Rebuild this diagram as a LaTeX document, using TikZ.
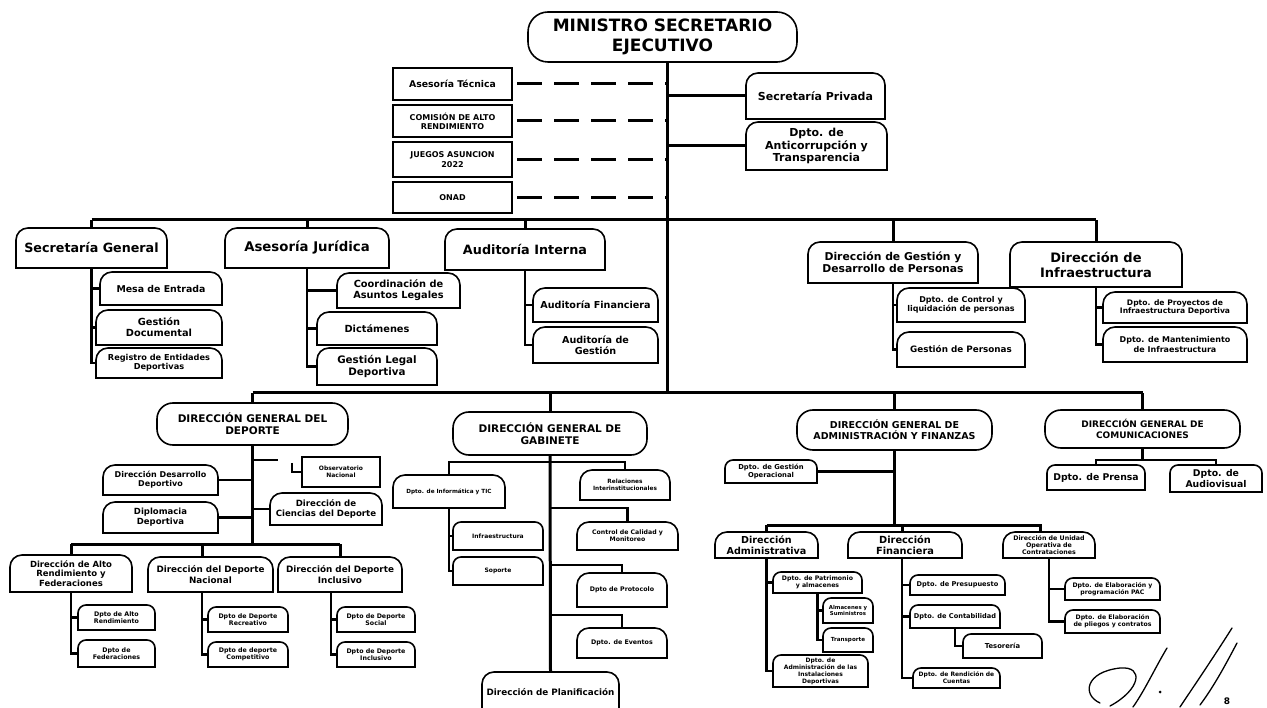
\documentclass[tikz,border=0pt]{standalone}
\usepackage{fontspec}
\setmainfont{DejaVu Sans}
\tikzset{
 bx/.style={inner sep=0pt,outer sep=0pt,align=center},
 fnt/.style={font={\fontsize{#1}{#1}\selectfont\bfseries\baselineskip=1.15em}},
 ln/.style={line width=3pt},
 lt/.style={line width=2.4pt},
 dsh/.style={line width=3pt,dash pattern=on 25pt off 12pt},
 bl/.style={line width=1.6pt},
 sig/.style={line width=1.3pt,line cap=round},
}
\newcommand\Bx[7]{\node[bx,fnt=#6,minimum width={(#4-#2)*1pt},minimum height={(#5-#3)*1pt}] (#1) at ({(#2+#4)/2},{-(#3+#5)/2}) {#7};}
\newcommand\TR[2]{\draw[bl,rounded corners=#2] (#1.south west) -- (#1.north west) -- (#1.north east) -- (#1.south east); \draw[bl,line cap=rect] (#1.south west) -- (#1.south east);}
\begin{document}
\begin{tikzpicture}[x=1pt,y=1pt]
\fill[white] (0,0) rectangle (1267,-708);
\useasboundingbox (0,0) rectangle (1267,-708);
% ---------- top
\Bx{min}{528}{12}{797}{62}{17}{MINISTRO SECRETARIO\\EJECUTIVO}
\Bx{at}{393}{68}{512}{100}{9.3}{Asesoría Técnica}
\Bx{car}{393}{105}{512}{137}{8}{COMISIÓN DE ALTO\\RENDIMIENTO}
\Bx{jue}{393}{142}{512}{177}{8}{JUEGOS ASUNCION\\2022}
\Bx{onad}{393}{182}{512}{213}{8}{ONAD}
\Bx{sp}{746}{73}{885}{119}{11}{Secretaría Privada}
\Bx{anti}{746}{122}{887}{170}{11}{Dpto. de\\Anticorrupción y\\Transparencia}
% ---------- level 2
\Bx{sg}{16}{228}{167}{268}{12.7}{Secretaría General}
\Bx{aj}{225}{228}{389}{268}{13.3}{Asesoría Jurídica}
\Bx{ai}{445}{229}{605}{270}{12.8}{Auditoría Interna}
\Bx{dgp}{808}{242}{978}{283}{10.8}{Dirección de Gestión y\\Desarrollo de Personas}
\Bx{inf}{1010}{242}{1182}{287}{13}{Dirección de\\Infraestructura}
\Bx{mesa}{100}{272}{222}{305}{9.4}{Mesa de Entrada}
\Bx{gdoc}{96}{310}{222}{345}{9.8}{Gestión\\Documental}
\Bx{reg}{96}{348}{222}{378}{8.2}{Registro de Entidades\\Deportivas}
\Bx{cal}{337}{273}{460}{308}{9.8}{Coordinación de\\Asuntos Legales}
\Bx{dic}{317}{312}{437}{345}{9.8}{Dictámenes}
\Bx{gld}{317}{348}{437}{385}{10.3}{Gestión Legal\\Deportiva}
\Bx{af}{533}{288}{658}{322}{9.6}{Auditoría Financiera}
\Bx{ag}{533}{327}{658}{363}{9.6}{Auditoría de\\Gestión}
\Bx{dcl}{897}{288}{1025}{322}{8}{Dpto. de Control y\\liquidación de personas}
\Bx{gp}{897}{332}{1025}{367}{8.8}{Gestión de Personas}
\Bx{dpi}{1103}{292}{1247}{323}{7.6}{Dpto. de Proyectos de\\Infraestructura Deportiva}
\Bx{dmi}{1103}{327}{1247}{362}{8}{Dpto. de Mantenimiento\\de Infraestructura}
% ---------- level 3
\Bx{dgd}{157}{403}{348}{445}{10.5}{DIRECCIÓN GENERAL DEL\\DEPORTE}
\Bx{dgg}{453}{412}{647}{455}{10.5}{DIRECCIÓN GENERAL DE\\GABINETE}
\Bx{dga}{797}{410}{992}{450}{9.5}{DIRECCIÓN GENERAL DE\\ADMINISTRACIÓN Y FINANZAS}
\Bx{dgc}{1045}{410}{1240}{448}{9}{DIRECCIÓN GENERAL DE\\COMUNICACIONES}
% deporte
\Bx{obs}{302}{457}{380}{487}{6}{Observatorio\\Nacional}
\Bx{ddd}{103}{465}{218}{495}{8}{Dirección Desarrollo\\Deportivo}
\Bx{dip}{103}{502}{218}{533}{8.5}{Diplomacia\\Deportiva}
\Bx{dcd}{270}{493}{382}{525}{8.6}{Dirección de\\Ciencias del Deporte}
\Bx{dar}{10}{555}{132}{592}{8.5}{Dirección de Alto\\Rendimiento y\\Federaciones}
\Bx{ddn}{148}{557}{273}{592}{8.8}{Dirección del Deporte\\Nacional}
\Bx{ddi}{278}{557}{402}{592}{8.8}{Dirección del Deporte\\Inclusivo}
\Bx{dar1}{78}{605}{155}{630}{6.3}{Dpto de Alto\\Rendimiento}
\Bx{dar2}{78}{640}{155}{667}{6.3}{Dpto de\\Federaciones}
\Bx{ddn1}{208}{607}{288}{632}{6.3}{Dpto de Deporte\\Recreativo}
\Bx{ddn2}{208}{642}{288}{667}{6.3}{Dpto de deporte\\Competitivo}
\Bx{ddi1}{337}{607}{415}{632}{6.3}{Dpto de Deporte\\Social}
\Bx{ddi2}{337}{642}{415}{667}{6.3}{Dpto de Deporte\\Inclusivo}
% gabinete
\Bx{tic}{393}{475}{505}{508}{5.7}{Dpto. de Informática y TIC}
\Bx{infr}{453}{522}{543}{550}{6}{Infraestructura}
\Bx{sop}{453}{557}{543}{585}{6}{Soporte}
\Bx{rel}{580}{470}{670}{500}{5.8}{Relaciones\\Interinstitucionales}
\Bx{ccm}{577}{522}{678}{550}{6.2}{Control de Calidad y\\Monitoreo}
\Bx{pro}{577}{573}{667}{607}{6.3}{Dpto de Protocolo}
\Bx{eve}{577}{628}{667}{658}{6.3}{Dpto. de Eventos}
\Bx{pla}{482}{672}{619}{712}{8.8}{Dirección de Planificación}
% admin
\Bx{dgo}{725}{460}{817}{483}{6.8}{Dpto. de Gestión\\Operacional}
\Bx{dad}{715}{532}{818}{558}{9.6}{Dirección\\Administrativa}
\Bx{dfi}{848}{532}{962}{558}{9.8}{Dirección\\Financiera}
\Bx{duo}{1003}{532}{1095}{558}{6.3}{Dirección de Unidad\\Operativa de\\Contrataciones}
\Bx{pat}{773}{572}{862}{593}{6.2}{Dpto. de Patrimonio\\y almacenes}
\Bx{alm}{823}{598}{873}{623}{5.4}{Almacenes y\\Suministros}
\Bx{tra}{823}{628}{873}{652}{5.6}{Transporte}
\Bx{ins}{773}{655}{868}{687}{6}{Dpto. de\\Administración de las\\Instalaciones\\Deportivas}
\Bx{pre}{910}{575}{1005}{595}{6.6}{Dpto. de Presupuesto}
\Bx{con}{910}{605}{1000}{628}{6.6}{Dpto. de Contabilidad}
\Bx{tes}{963}{634}{1042}{658}{6.8}{Tesorería}
\Bx{ren}{913}{668}{1000}{688}{6}{Dpto. de Rendición de\\Cuentas}
\Bx{pac}{1065}{578}{1160}{600}{6.2}{Dpto. de Elaboración y\\programación PAC}
\Bx{plc}{1065}{610}{1160}{633}{6.2}{Dpto. de Elaboración\\de pliegos y contratos}
% comunicaciones
\Bx{prn}{1047}{465}{1145}{490}{9.3}{Dpto. de Prensa}
\Bx{aud}{1170}{465}{1262}{492}{9.3}{Dpto. de\\Audiovisual}
% ---------- box outlines
\draw[bl,rounded corners=20pt] (min.south west) rectangle (min.north east);
\foreach \n in {dgd,dgg,dga,dgc} {\draw[bl,rounded corners=16pt] (\n.south west) rectangle (\n.north east);}
\foreach \n in {at,car,jue,onad,obs} {\draw[bl] (\n.south west) rectangle (\n.north east);}
\foreach \n in {sp,anti,sg,aj,ai,dgp,inf,mesa,gdoc,reg,cal,dic,gld,af,ag,dcl,gp,dpi,dmi,ddd,dip,dcd,dar,ddn,ddi,tic,rel,ccm,pro,eve,pla,dad,dfi,duo} {\TR{\n}{12pt}}
\foreach \n in {dar1,dar2,ddn1,ddn2,ddi1,ddi2,infr,sop,dgo,pat,alm,tra,ins,pre,con,tes,ren,pac,plc,prn,aud} {\TR{\n}{8pt}}
% ---------- connectors top
\coordinate (t0) at (667,-220);
\coordinate (t1) at (667,-393);
\draw[ln] (min.south -| t0) -- (t1);
\foreach \n in {at,car,jue,onad} {\draw[dsh] ([xshift=5pt]\n.east) -- (\n.east -| t0);}
\draw[ln] (sp.west -| t0) -- (sp.west);
\draw[ln] (anti.west -| t0) -- (anti.west);
\draw[ln] (sg.north |- t0) -- (inf.north |- t0);
\foreach \n in {sg,aj,ai,dgp,inf} {\draw[ln] (\n.north) -- (\n.north |- t0);}
\draw[lt] (sg.south) |- (reg.west);
\draw[lt] (sg.south |- mesa.west) -- (mesa.west);
\draw[lt] (sg.south |- gdoc.west) -- (gdoc.west);
\draw[lt] (aj.south) |- (gld.west);
\draw[lt] (aj.south |- cal.west) -- (cal.west);
\draw[lt] (aj.south |- dic.west) -- (dic.west);
\draw[lt] (ai.south) |- (ag.west);
\draw[lt] (ai.south |- af.west) -- (af.west);
\draw[lt] (dgp.south) |- (gp.west);
\draw[lt] (dgp.south |- dcl.west) -- (dcl.west);
\draw[lt] (inf.south) |- (dmi.west);
\draw[lt] (inf.south |- dpi.west) -- (dpi.west);
% ---------- bus 2
\draw[ln] (dgd.north |- t1) -- (dgc.north |- t1);
\foreach \n in {dgd,dgg,dga,dgc} {\draw[ln] (\n.north) -- (\n.north |- t1);}
% deporte
\coordinate (d1) at (252.5,-544);
\coordinate (nx) at (202,-544);
\coordinate (ix) at (331,-592);
\coordinate (o1) at (278,-460);
\coordinate (o2) at (292,-463);
\draw[ln] (dgd.south) -- (d1);
\draw[ln] (dar.north |- d1) -- (ddi.north |- d1);
\draw[ln] (dar.north) -- (dar.north |- d1);
\draw[ln] (nx) -- (nx |- ddn.north);
\draw[ln] (ddi.north) -- (ddi.north |- d1);
\draw[lt] (o1 -| d1) -- (o1);
\draw[lt] (o2) |- (obs.west);
\draw[lt] (ddd.east) -- (ddd.east -| d1);
\draw[lt] (dip.east) -- (dip.east -| d1);
\draw[lt] (dcd.west -| d1) -- (dcd.west);
\draw[lt] (dar.south) |- (dar2.west);
\draw[lt] (dar.south |- dar1.west) -- (dar1.west);
\draw[lt] (nx |- ddn.south) |- (ddn2.west);
\draw[lt] (nx |- ddn1.west) -- (ddn1.west);
\draw[lt] (ix) |- (ddi2.west);
\draw[lt] (ix |- ddi1.west) -- (ddi1.west);
% gabinete
\coordinate (g1) at (550,-462);
\coordinate (g2) at (550,-508);
\coordinate (g3) at (550,-565);
\coordinate (g4) at (550,-615);
\draw[ln] (dgg.south) -- (pla.north);
\draw[lt] (tic.north) |- (rel.north |- g1) -- (rel.north);
\draw[lt] (tic.south) |- (sop.west);
\draw[lt] (tic.south |- infr.west) -- (infr.west);
\draw[lt] (g2) -| (ccm.north);
\draw[lt] (g3) -| (pro.north);
\draw[lt] (g4) -| (eve.north);
% administracion
\coordinate (a1) at (893,-525);
\coordinate (ux) at (1040,-525);
\coordinate (fx) at (902,-525);
\draw[ln] (dga.south) -- (dga.south |- a1);
\draw[lt] (dgo.east) -- (dgo.east -| a1);
\draw[ln] (dad.north |- a1) -- (ux) -- (ux |- duo.north);
\draw[ln] (dad.north) -- (dad.north |- a1);
\draw[ln] (fx) -- (fx |- dfi.north);
\draw[lt] (dad.south) |- (ins.west);
\draw[lt] (dad.south |- pat.west) -- (pat.west);
\draw[lt] (pat.south) |- (tra.west);
\draw[lt] (pat.south |- alm.west) -- (alm.west);
\draw[lt] (fx |- dfi.south) |- (ren.west);
\draw[lt] (fx |- pre.west) -- (pre.west);
\draw[lt] (fx |- con.west) -- (con.west);
\draw[lt] (con.south) |- (tes.west);
\draw[lt] (duo.south) |- (plc.west);
\draw[lt] (duo.south |- pac.west) -- (pac.west);
% comunicaciones
\coordinate (c1) at (1143,-460);
\draw[lt] (dgc.south) -- (dgc.south |- c1);
\draw[lt] (prn.north) |- (aud.north |- c1) -- (aud.north);
% ---------- signature
\draw[sig] (1100,-703) .. controls (1082,-695) and (1085,-672) .. (1120,-668) .. controls (1145,-666) and (1140,-690) .. (1110,-706);
\draw[sig] (1133,-707) .. controls (1145,-690) and (1155,-668) .. (1167,-648);
\fill (1160,-692) circle (1.5pt);
\draw[sig] (1180,-707) .. controls (1198,-680) and (1215,-655) .. (1232,-628);
\draw[sig] (1200,-705) .. controls (1215,-685) and (1228,-660) .. (1237,-643);
\node[fnt=9] (pg) at (1227,-701) {8};
\end{tikzpicture}
\end{document}
